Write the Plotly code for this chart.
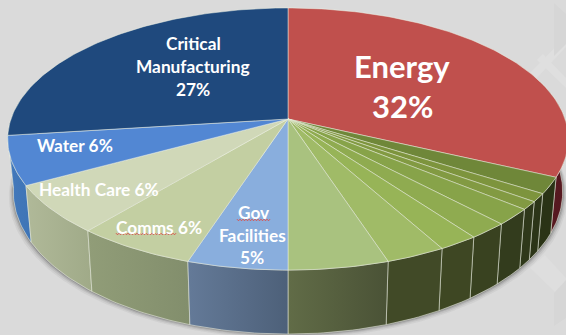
import math
import plotly.graph_objects as go

# Shares in percent, clockwise from twelve o'clock
energy_share = [32]
unlabelled_shares = [2, 1, 1, 2, 2, 2, 3, 5]
gov_share = [5]
comms_share = [6]
health_share = [6]
water_share = [6]
manufacturing_share = [27]

shares = (energy_share + unlabelled_shares + gov_share + comms_share
          + health_share + water_share + manufacturing_share)

top_colors = ["#C0504D", "#6F8739", "#7D943D", "#829A42", "#87A349", "#8FAB50",
              "#97B457", "#A0BB67", "#A9C27F", "#89AEDD", "#C3CFA2", "#D0D8B8",
              "#5287D3", "#1F497D"]
# Wall shading, left colour then right colour of each slice
wall_colors = [("#5A1A20", "#541820"), ("#2A3316", "#2A3316"), ("#2C3518", "#2C3518"),
               ("#2F381A", "#2F381A"), ("#333C1D", "#333C1D"), ("#394220", "#394220"),
               ("#3E4723", "#3E4723"), ("#414A27", "#414A27"), ("#616C47", "#4A5236"),
               ("#647A98", "#4D6079"), ("#919D78", "#828E6C"), ("#B0B999", "#A0AA88"),
               ("#4379BB", "#3E74B6"), ("#1F497D", "#1F497D")]

# Projection of the tilted disc onto the page, in page pixels
CX, CY = 288, 119
RX, RY, TILT = 277, 128, 0.1527
BASE_SCALE_X, BASE_SCALE_Y, BASE_DROP = 0.98, 1.086, 51


def top_point(turn):
    a = 2 * math.pi * turn
    s, c = math.sin(a), math.cos(a)
    d = 1 + TILT * c
    return CX + RX * s / d, CY - RY * c / d


def base_point(turn):
    x, y = top_point(turn)
    return CX + BASE_SCALE_X * (x - CX), CY + BASE_DROP + BASE_SCALE_Y * (y - CY)


def arc(fn, start, end):
    n = max(2, int((end - start) * 360))
    return [fn(start + (end - start) * i / n) for i in range(n + 1)]


def polygon(points, **kw):
    xs, ys = zip(*points)
    return go.Scatter(x=list(xs) + [xs[0]], y=list(ys) + [ys[0]], mode="lines",
                      fill="toself", hoverinfo="skip", showlegend=False, **kw)


fig = go.Figure()

# Soft drop shadow hugging the outside of the drum
for grow, alpha in [(4.5, 0.05), (3.2, 0.08), (2.0, 0.12), (1.0, 0.2)]:
    rim = arc(base_point, 0.24, 0.77)
    pts = [(CX + (x - CX) * (1 + grow / 275), y + grow) for x, y in rim]
    fig.add_trace(polygon(pts, line=dict(width=0), fillcolor=f"rgba(40,40,40,{alpha})"))

edges = [0]
for v in shares:
    edges.append(edges[-1] + v)
turns = [(edges[i] / 100, edges[i + 1] / 100) for i in range(len(shares))]

# Walls go back to front so nearer slices cover farther ones, then the lid on top
wall_order = sorted(range(len(turns)),
                    key=lambda i: -abs((turns[i][0] + turns[i][1]) / 2 - 0.5))
for i in wall_order:
    start, end = turns[i]
    left, right = wall_colors[i]
    front_start = max(start, 0.2)
    front_end = min(end, 0.8)
    if front_end <= front_start:
        continue
    upper = arc(top_point, front_start, front_end)
    lower = arc(base_point, front_start, front_end)
    pts = upper + lower[::-1]
    xs = [p[0] for p in pts]
    fig.add_trace(polygon(
        pts, line=dict(color="rgba(235,238,225,0.6)", width=0.9),
        fillgradient=dict(type="horizontal", start=min(xs), stop=max(xs),
                          colorscale=[[0, left], [1, right]])))

for (start, end), color in zip(turns, top_colors):
    pts = [(CX, CY)] + arc(top_point, start, end)
    fig.add_trace(polygon(pts, fillcolor=color,
                          line=dict(color="rgba(238,242,228,0.55)", width=0.9)))

# Spell-check squiggles under two of the labels
SQUIGGLES = [(116, 176, 234), (237, 271, 220)]
for x0, x1, y in SQUIGGLES:
    n = int((x1 - x0) / 1.5)
    xs = [x0 + i * 1.5 for i in range(n + 1)]
    ys = [y + (0.8 if i % 2 else -0.8) for i in range(n + 1)]
    fig.add_trace(go.Scatter(x=xs, y=ys, mode="lines", hoverinfo="skip", showlegend=False,
                             line=dict(color="#D9534F", width=1)))

# Each label line is placed on its own for exact leading
label_lines = [
    ("Energy", 402, 65.5, 31),
    (f"{energy_share[0]}%", 402, 105.5, 31),
    ("Critical", 193, 43, 17.3),
    ("Manufacturing", 193, 66, 17.3),
    (f"{manufacturing_share[0]}%", 193, 89, 17.3),
    (f"Water {water_share[0]}%", 74.5, 145, 17.3),
    (f"Health Care {health_share[0]}%", 99, 189, 17.3),
    (f"Comms {comms_share[0]}%", 158.5, 227, 17.3),
    ("Gov", 254, 212.5, 17.3),
    ("Facilities", 252.5, 235.5, 17.3),
    (f"{gov_share[0]}%", 252, 257.5, 17.3),
]
for text, x, y, size in label_lines:
    fig.add_annotation(x=x, y=y, text=f"<b>{text}</b>", showarrow=False, align="center",
                       font=dict(family="Lato", size=size, color="white"),
                       xanchor="center", yanchor="middle")

# Faint lattice ornament on the backdrop
lattice = [
    ("M 527 76 L 566 36 L 566 47 L 535 80 Z", "#DFDFDF"),
    ("M 543 54 L 566 78 L 566 88 L 537 60 Z", "#DFDFDF"),
    ("M 554 3 L 566 14 L 566 44 L 554 56 Z", "#D6D6D6"),
    ("M 530 268 L 545 255 L 566 278 L 566 284 L 555 292 Z", "#DEDEDE"),
    ("M 554 293 L 566 280 L 566 318 L 554 326 Z", "#D6D6D6"),
]
shapes = [dict(type="path", path=p, fillcolor=c, line=dict(width=0), layer="below")
          for p, c in lattice]

fig.update_layout(
    width=566, height=335, margin=dict(l=0, r=0, t=0, b=0),
    paper_bgcolor="#DADADA", plot_bgcolor="#DADADA", showlegend=False,
    xaxis=dict(range=[0, 566], visible=False, fixedrange=True),
    yaxis=dict(range=[335, 0], visible=False, fixedrange=True),
    shapes=shapes,
)
fig.write_html("out.html", config={"displayModeBar": False})
